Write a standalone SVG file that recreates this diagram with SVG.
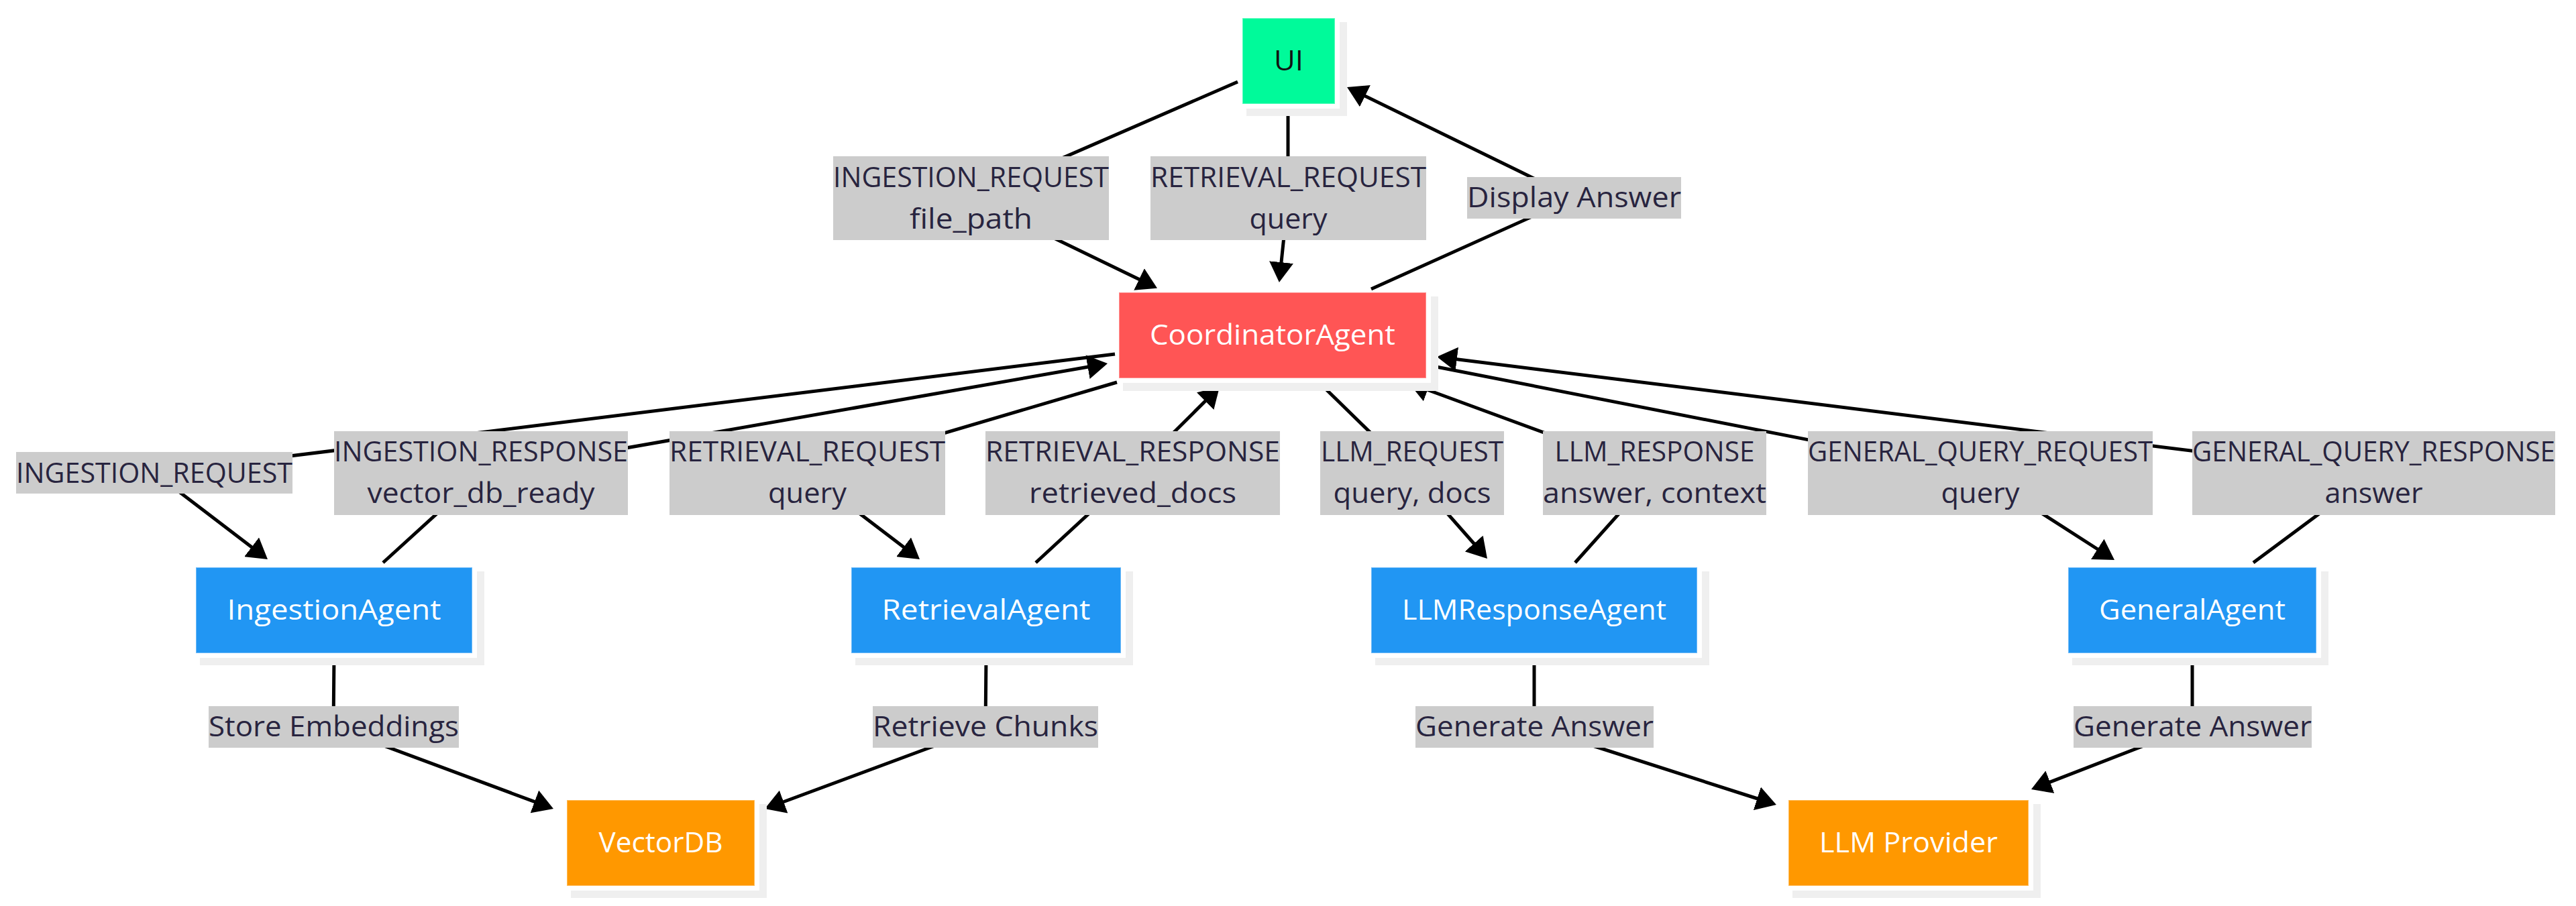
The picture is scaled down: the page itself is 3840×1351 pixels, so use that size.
<svg xmlns="http://www.w3.org/2000/svg" width="3840" height="1351" viewBox="0 0 3840 1351">
<defs>
<style>
.edge{fill:none;stroke:#000;stroke-width:5;stroke-linejoin:round}
.lbl rect{fill:#cccccc}
.lbl text{font-family:"Open Sans","Liberation Sans",sans-serif;font-size:42px;fill:#28243f;text-anchor:middle}
.node text{font-family:"Open Sans","Liberation Sans",sans-serif;font-size:42px;fill:#ffffff;text-anchor:middle}
.shadow{fill:#efefef}
.halo{fill:#ffffff}
.box{stroke:#ffffff;stroke-opacity:0.35;stroke-width:2}
.green{fill:#00fa9a}
.red{fill:#ff5555}
.blue{fill:#2196f3}
.orange{fill:#ff9800}
</style>
<marker id="arrow" viewBox="0 0 10 12" markerUnits="userSpaceOnUse" markerWidth="30" markerHeight="36" refX="1.33" refY="6" orient="auto">
<path d="M0,0 L10,6 L0,12 z" fill="#000"/>
</marker>
</defs>
<rect width="3840" height="1351" fill="#ffffff"/>

<g id="connectors">
<path class="edge" marker-end="url(#arrow)" d="M1845,122 L1447,295 L1701.6,418.3"/>
<path class="edge" marker-end="url(#arrow)" d="M1920,162 L1920,295 L1909.6,395.1"/>
<path class="edge" marker-end="url(#arrow)" d="M2044,431 L2346,295 L2031.4,141.4"/>
<path class="edge" marker-end="url(#arrow)" d="M1662,528 L230,705 L378.3,818.2"/>
<path class="edge" marker-end="url(#arrow)" d="M571,839 L717,706 L1625.4,546.5"/>
<path class="edge" marker-end="url(#arrow)" d="M1665,570 L1203,706 L1350.3,818.2"/>
<path class="edge" marker-end="url(#arrow)" d="M1544,839 L1688,706 L1799.5,595.3"/>
<path class="edge" marker-end="url(#arrow)" d="M1967,571 L2105,706 L2199.8,813.5"/>
<path class="edge" marker-end="url(#arrow)" d="M2348,839 L2467,706 L2124.4,580"/>
<path class="edge" marker-end="url(#arrow)" d="M2131,545 L2951,706 L3130.1,821"/>
<path class="edge" marker-end="url(#arrow)" d="M3359,839 L3538,706 L2167.8,535.2"/>
<path class="edge" marker-end="url(#arrow)" d="M498,980 L497,1084 L800.6,1196.9"/>
<path class="edge" marker-end="url(#arrow)" d="M1470,980 L1469,1084 L1164.4,1197"/>
<path class="edge" marker-end="url(#arrow)" d="M2287,980 L2287,1084 L2623.2,1192"/>
<path class="edge" marker-end="url(#arrow)" d="M3268,980 L3268,1084 L3052.2,1167.6"/>
</g>

<g id="edge-labels">
<g class="lbl" id="lbl-ui-ingestion"><rect x="1242" y="233" width="411" height="125"/><text x="1447.5" y="279" textLength="411" lengthAdjust="spacingAndGlyphs">INGESTION_REQUEST</text><text x="1447.5" y="341" textLength="183" lengthAdjust="spacingAndGlyphs">file_path</text></g>
<g class="lbl" id="lbl-ui-retrieval"><rect x="1715" y="233" width="411" height="125"/><text x="1920.5" y="279" textLength="411" lengthAdjust="spacingAndGlyphs">RETRIEVAL_REQUEST</text><text x="1920.5" y="341" textLength="116" lengthAdjust="spacingAndGlyphs">query</text></g>
<g class="lbl" id="lbl-display"><rect x="2187" y="264" width="319" height="62"/><text x="2346.5" y="309" textLength="319" lengthAdjust="spacingAndGlyphs">Display Answer</text></g>

<g class="lbl" id="lbl-ing-req"><rect x="24" y="674" width="412" height="62"/><text x="230" y="720" textLength="412" lengthAdjust="spacingAndGlyphs">INGESTION_REQUEST</text></g>
<g class="lbl" id="lbl-ing-resp"><rect x="498" y="643" width="438" height="125"/><text x="717" y="688" textLength="438" lengthAdjust="spacingAndGlyphs">INGESTION_RESPONSE</text><text x="717" y="750" textLength="339" lengthAdjust="spacingAndGlyphs">vector_db_ready</text></g>
<g class="lbl" id="lbl-ret-req"><rect x="998" y="643" width="411" height="125"/><text x="1203.5" y="688" textLength="411" lengthAdjust="spacingAndGlyphs">RETRIEVAL_REQUEST</text><text x="1203.5" y="750" textLength="117" lengthAdjust="spacingAndGlyphs">query</text></g>
<g class="lbl" id="lbl-ret-resp"><rect x="1469" y="643" width="439" height="125"/><text x="1688.5" y="688" textLength="439" lengthAdjust="spacingAndGlyphs">RETRIEVAL_RESPONSE</text><text x="1688.5" y="750" textLength="309" lengthAdjust="spacingAndGlyphs">retrieved_docs</text></g>
<g class="lbl" id="lbl-llm-req"><rect x="1968" y="643" width="274" height="125"/><text x="2105" y="688" textLength="272" lengthAdjust="spacingAndGlyphs">LLM_REQUEST</text><text x="2105" y="750" textLength="235" lengthAdjust="spacingAndGlyphs">query, docs</text></g>
<g class="lbl" id="lbl-llm-resp"><rect x="2300" y="643" width="333" height="125"/><text x="2466.5" y="688" textLength="298" lengthAdjust="spacingAndGlyphs">LLM_RESPONSE</text><text x="2466.5" y="750" textLength="333" lengthAdjust="spacingAndGlyphs">answer, context</text></g>
<g class="lbl" id="lbl-gq-req"><rect x="2695" y="643" width="514" height="125"/><text x="2952" y="688" textLength="514" lengthAdjust="spacingAndGlyphs">GENERAL_QUERY_REQUEST</text><text x="2952" y="750" textLength="117" lengthAdjust="spacingAndGlyphs">query</text></g>
<g class="lbl" id="lbl-gq-resp"><rect x="3268" y="643" width="541" height="125"/><text x="3538.5" y="688" textLength="541" lengthAdjust="spacingAndGlyphs">GENERAL_QUERY_RESPONSE</text><text x="3538.5" y="750" textLength="146" lengthAdjust="spacingAndGlyphs">answer</text></g>

<g class="lbl" id="lbl-store"><rect x="311" y="1053" width="373" height="62"/><text x="497.5" y="1098" textLength="373" lengthAdjust="spacingAndGlyphs">Store Embeddings</text></g>
<g class="lbl" id="lbl-retrieve"><rect x="1301" y="1053" width="336" height="62"/><text x="1469" y="1098" textLength="336" lengthAdjust="spacingAndGlyphs">Retrieve Chunks</text></g>
<g class="lbl" id="lbl-gen1"><rect x="2110" y="1053" width="355" height="62"/><text x="2287.5" y="1098" textLength="355" lengthAdjust="spacingAndGlyphs">Generate Answer</text></g>
<g class="lbl" id="lbl-gen2"><rect x="3091" y="1053" width="355" height="62"/><text x="3268.5" y="1098" textLength="355" lengthAdjust="spacingAndGlyphs">Generate Answer</text></g>
</g>

<g id="node-ui" class="node"><rect class="shadow" x="1858" y="33" width="150" height="140"/><rect class="halo" x="1852" y="27" width="145" height="135"/><rect class="box green" x="1852" y="27" width="138" height="128"/><text x="1921" y="105" textLength="44" lengthAdjust="spacingAndGlyphs" style="fill:#111111">UI</text></g>

<g id="node-coordinator" class="node"><rect class="shadow" x="1674" y="442" width="470" height="141"/><rect class="halo" x="1668" y="436" width="465" height="135"/><rect class="box red" x="1668" y="436" width="458" height="128"/><text x="1897" y="514" textLength="366" lengthAdjust="spacingAndGlyphs">CoordinatorAgent</text></g>

<g id="node-ingestion" class="node"><rect class="shadow" x="298" y="852" width="424" height="140"/><rect class="halo" x="292" y="846" width="419" height="135"/><rect class="box blue" x="292" y="846" width="412" height="128"/><text x="498" y="924" textLength="319" lengthAdjust="spacingAndGlyphs">IngestionAgent</text></g>

<g id="node-retrieval" class="node"><rect class="shadow" x="1275" y="852" width="414" height="140"/><rect class="halo" x="1269" y="846" width="409" height="135"/><rect class="box blue" x="1269" y="846" width="402" height="128"/><text x="1470" y="924" textLength="311" lengthAdjust="spacingAndGlyphs">RetrievalAgent</text></g>

<g id="node-llmresponse" class="node"><rect class="shadow" x="2050" y="852" width="498" height="140"/><rect class="halo" x="2044" y="846" width="493" height="135"/><rect class="box blue" x="2044" y="846" width="486" height="128"/><text x="2287" y="924" textLength="394" lengthAdjust="spacingAndGlyphs">LLMResponseAgent</text></g>

<g id="node-general" class="node"><rect class="shadow" x="3089" y="852" width="382" height="140"/><rect class="halo" x="3083" y="846" width="377" height="135"/><rect class="box blue" x="3083" y="846" width="370" height="128"/><text x="3268" y="924" textLength="278" lengthAdjust="spacingAndGlyphs">GeneralAgent</text></g>

<g id="node-vectordb" class="node"><rect class="shadow" x="851" y="1199" width="292" height="140"/><rect class="halo" x="845" y="1193" width="287" height="135"/><rect class="box orange" x="845" y="1193" width="280" height="128"/><text x="985" y="1271" textLength="185" lengthAdjust="spacingAndGlyphs">VectorDB</text></g>

<g id="node-llmprovider" class="node"><rect class="shadow" x="2672" y="1199" width="370" height="140"/><rect class="halo" x="2666" y="1193" width="365" height="135"/><rect class="box orange" x="2666" y="1193" width="358" height="128"/><text x="2845" y="1271" textLength="266" lengthAdjust="spacingAndGlyphs">LLM Provider</text></g>
</svg>
